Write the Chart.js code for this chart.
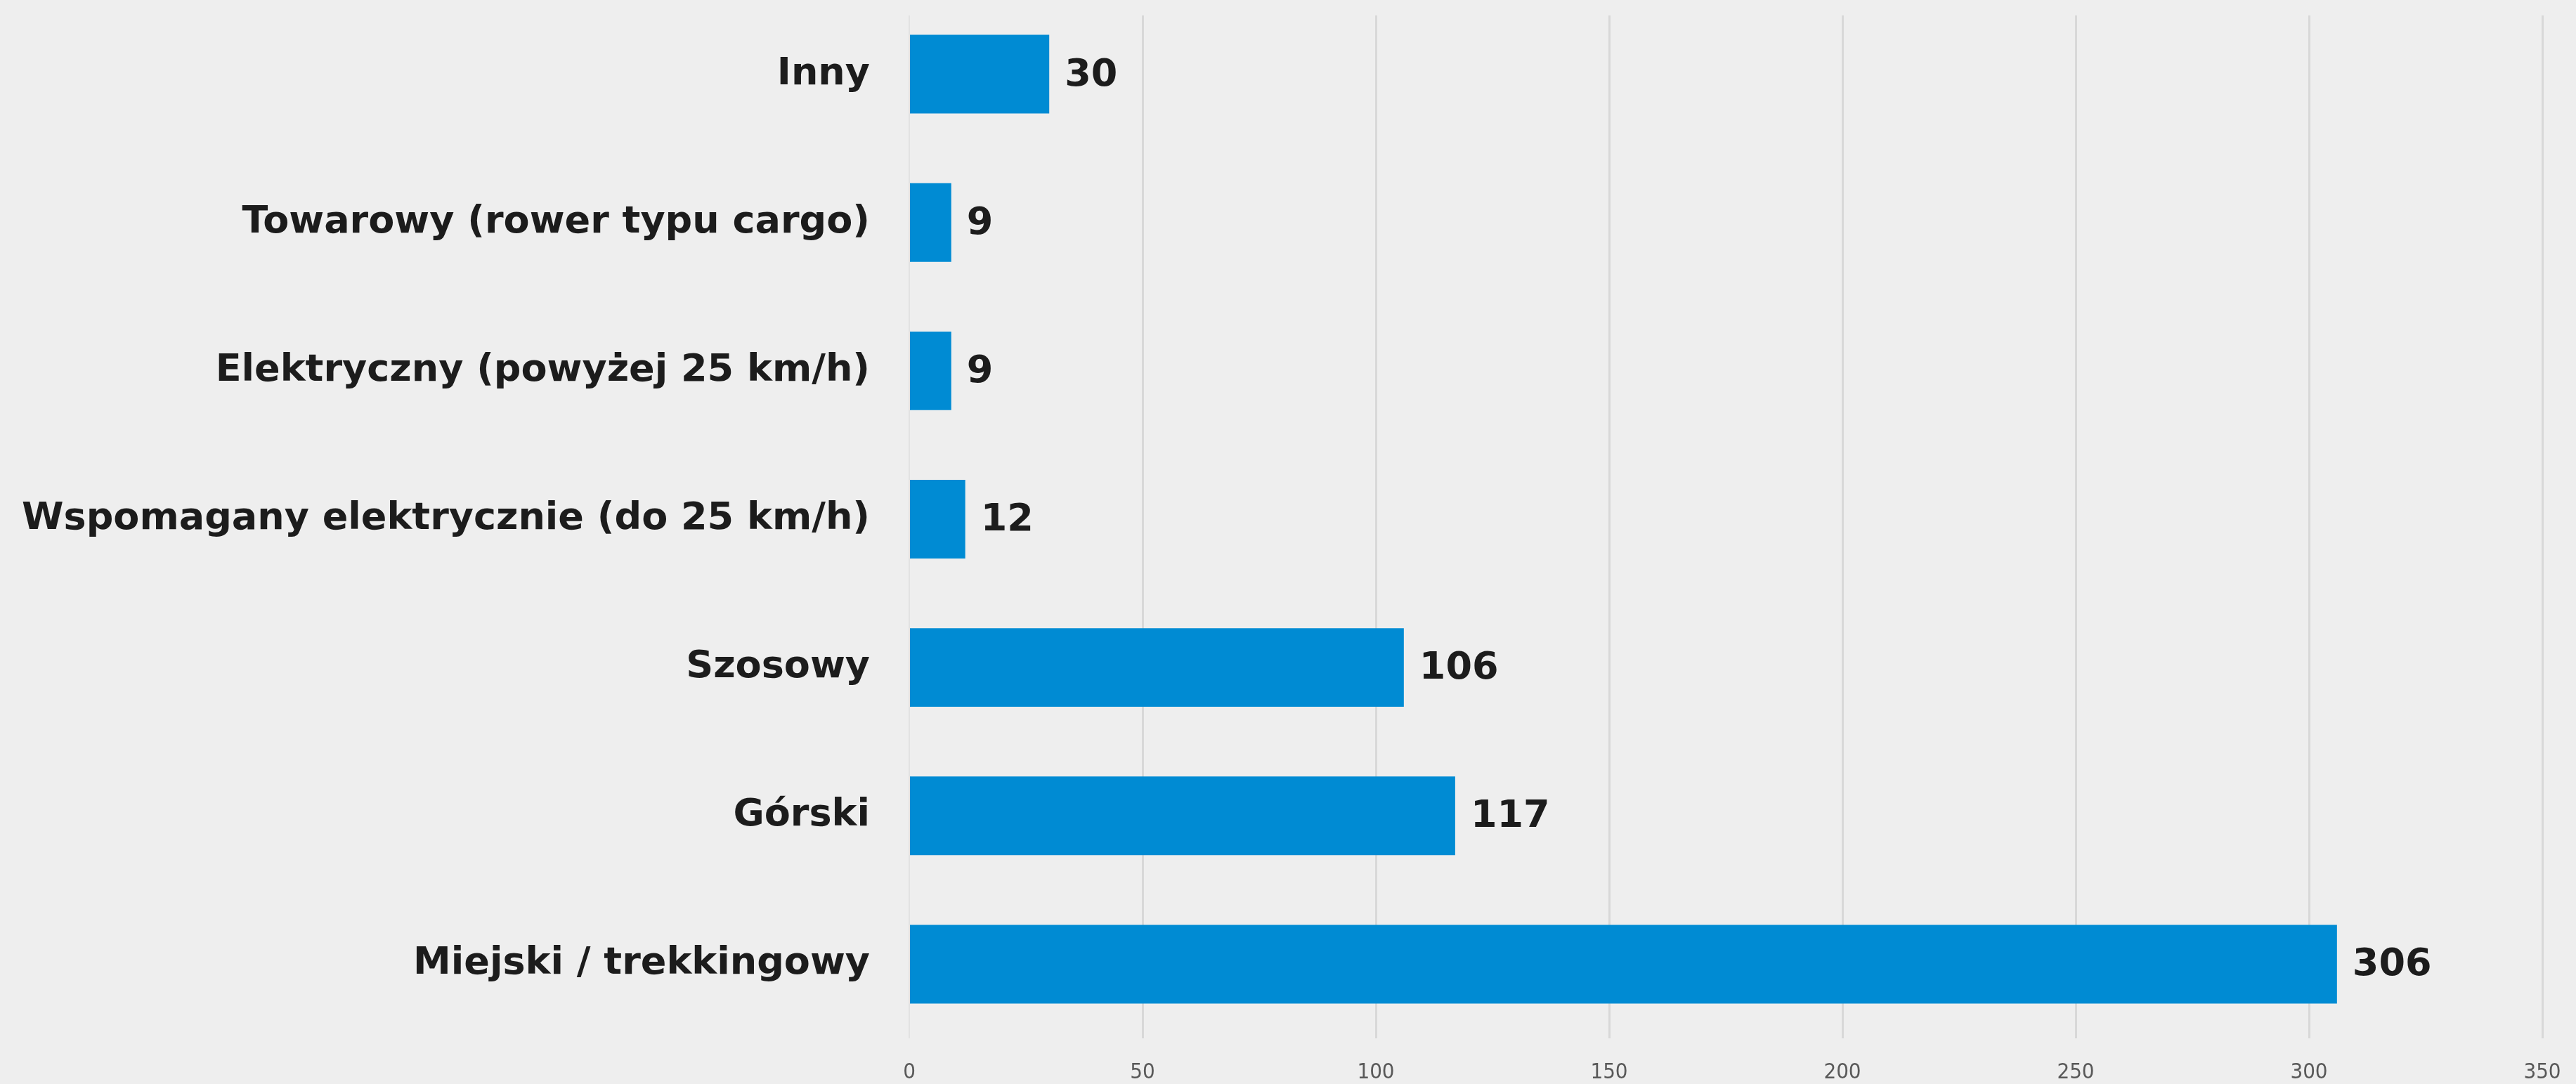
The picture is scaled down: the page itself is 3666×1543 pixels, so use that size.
<!DOCTYPE html>
<html>
<head>
<meta charset="utf-8">
<script src="https://cdn.jsdelivr.net/npm/chart.js@4"></script>
<style>
  html, body { margin: 0; padding: 0; background: #eeeeee; }
  #wrap { width: 3666px; height: 1543px; }
</style>
</head>
<body>
<div id="wrap"><canvas id="bikeChart"></canvas></div>
<script>
// typy rowerów (od góry)
const categories = [
    'Inny',
    'Towarowy (rower typu cargo)',
    'Elektryczny (powyżej 25 km/h)',
    'Wspomagany elektrycznie (do 25 km/h)',
    'Szosowy',
    'Górski',
    'Miejski / trekkingowy'
];
const counts = [30, 9, 9, 12, 106, 117, 306];
const xTicks = [0, 50, 100, 150, 200, 250, 300, 350];

const labelFont = '600 54px "DejaVu Sans", "Open Sans", sans-serif';

// linie siatki zaczynają się trochę poniżej górnej krawędzi
const gridGap = {
    id: 'gridGap',
    beforeDatasetsDraw(chart) {
        const ctx = chart.ctx;
        const area = chart.chartArea;
        ctx.save();
        ctx.fillStyle = '#eeeeee';
        ctx.fillRect(area.left - 4, area.top, area.right - area.left + 8, 22);
        ctx.restore();
    }
};

// etykiety z wartościami na końcu słupków
const valueLabels = {
    id: 'valueLabels',
    afterDatasetsDraw(chart) {
        const ctx = chart.ctx;
        const meta = chart.getDatasetMeta(0);
        ctx.save();
        ctx.font = labelFont;
        ctx.fillStyle = '#1c1c1c';
        ctx.textAlign = 'left';
        ctx.textBaseline = 'middle';
        meta.data.forEach((bar, i) => {
            ctx.fillText(String(counts[i]), bar.x + 22, bar.y + 2);
        });
        ctx.restore();
    }
};

const ctx = document.getElementById('bikeChart').getContext('2d');
const chart = new Chart(ctx, {
    type: 'bar',
    data: {
        labels: categories,
        datasets: [{
            data: counts,
            backgroundColor: '#008bd3',
            borderWidth: 0,
            barPercentage: 0.53,
            categoryPercentage: 1
        }]
    },
    options: {
        indexAxis: 'y',
        responsive: true,
        maintainAspectRatio: false,
        animation: false,
        layout: { padding: { top: 0, right: 48, bottom: 0, left: 0 } },
        plugins: {
            legend: { display: false },
            tooltip: { enabled: false }
        },
        scales: {
            x: {
                min: xTicks[0],
                max: xTicks[xTicks.length - 1],
                afterBuildTicks: scale => {
                    scale.ticks = xTicks.map(v => ({ value: v }));
                },
                afterFit: scale => {
                    scale.height = 65;
                    scale.paddingLeft = 0;
                    scale.paddingRight = 0;
                },
                grid: {
                    color: ctx => ctx.index === 0 ? '#e2e2e2' : '#d8d8d8',
                    lineWidth: ctx => ctx.index === 0 ? 2 : 3,
                    drawTicks: false
                },
                border: { display: false },
                ticks: {
                    padding: 30,
                    color: '#595959',
                    font: { family: '"DejaVu Sans Condensed", "Liberation Sans Narrow", sans-serif', size: 31 }
                }
            },
            y: {
                grid: { display: false, drawTicks: false },
                border: { display: false },
                afterFit: scale => {
                    scale.width = 1294;
                    scale.paddingTop = 0;
                    scale.paddingBottom = 0;
                },
                ticks: {
                    padding: 56,
                    color: '#1c1c1c',
                    font: { family: '"DejaVu Sans", "Open Sans", sans-serif', size: 54, weight: '600' }
                }
            }
        }
    },
    plugins: [gridGap, valueLabels]
});
</script>
</body>
</html>
